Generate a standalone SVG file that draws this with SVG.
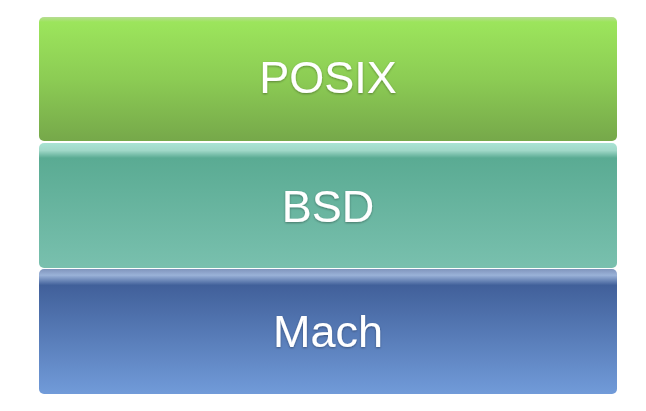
<svg xmlns="http://www.w3.org/2000/svg" width="646" height="411" viewBox="0 0 646 411">
<defs>
<linearGradient id="gP" x1="0" y1="0" x2="0" y2="1">
<stop offset="0" stop-color="#b8dc94"/>
<stop offset="0.04" stop-color="#9ce55c"/>
<stop offset="0.5" stop-color="#8ccc54"/>
<stop offset="1" stop-color="#76a84a"/>
</linearGradient>
<linearGradient id="gB" x1="0" y1="0" x2="0" y2="1">
<stop offset="0" stop-color="#a9e4d4"/>
<stop offset="0.06" stop-color="#a0d8c8"/>
<stop offset="0.12" stop-color="#5aab93"/>
<stop offset="1" stop-color="#79c0ae"/>
</linearGradient>
<linearGradient id="gM" x1="0" y1="0" x2="0" y2="1">
<stop offset="0" stop-color="#7f94bc"/>
<stop offset="0.05" stop-color="#9ab2d8"/>
<stop offset="0.13" stop-color="#41609a"/>
<stop offset="1" stop-color="#719bd9"/>
</linearGradient>
<filter id="ts" x="-10%" y="-10%" width="120%" height="130%">
<feDropShadow dx="0" dy="1" stdDeviation="1" flood-color="#000" flood-opacity="0.35"/>
</filter>
</defs>
<style>
.lbl{font-family:"Liberation Sans",Arial,sans-serif;font-size:45px;fill:#fff;text-anchor:middle;filter:url(#ts)}
</style>
<rect width="646" height="411" fill="#fff"/>
<g id="posix">
<rect x="39" y="17" width="578" height="124" rx="5" fill="url(#gP)"/>
<text class="lbl" x="328" y="93">POSIX</text>
</g>
<g id="bsd">
<rect x="39" y="143" width="578" height="125" rx="5" fill="url(#gB)"/>
<text class="lbl" x="328" y="222">BSD</text>
</g>
<g id="mach">
<rect x="39" y="269" width="578" height="125" rx="5" fill="url(#gM)"/>
<text class="lbl" x="328" y="347">Mach</text>
</g>
<g id="connectors"/>
</svg>
